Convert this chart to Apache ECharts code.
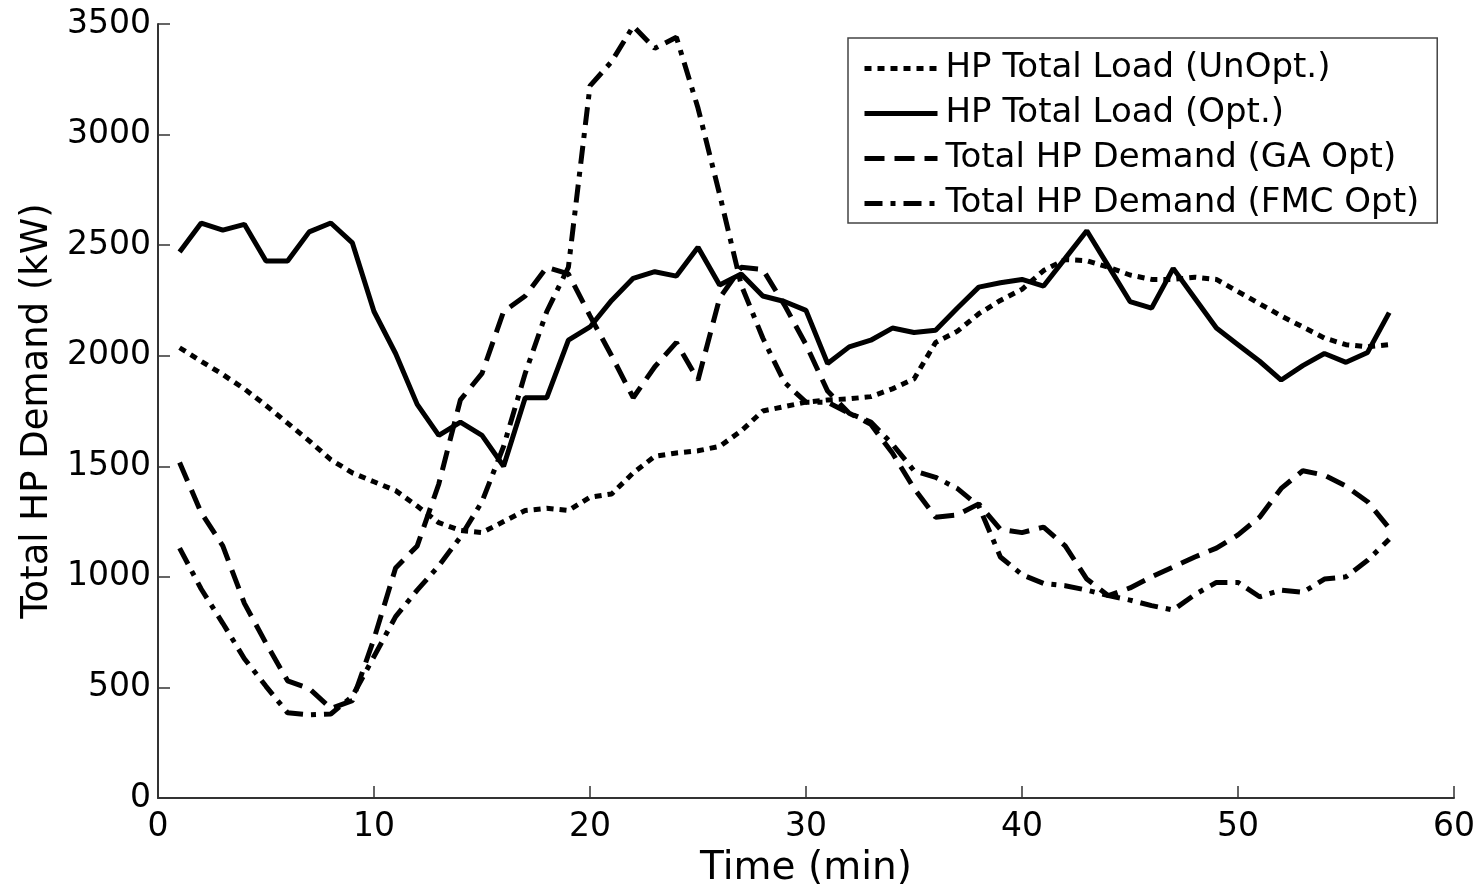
<!DOCTYPE html>
<html>
<head>
<meta charset="utf-8">
<script src="https://cdn.jsdelivr.net/npm/echarts@6/dist/echarts.min.js"></script>
<style>
html,body{margin:0;padding:0;background:#fff;}
#chart{width:1478px;height:887px;}
</style>
</head>
<body>
<div id="chart"></div>
<script>
const timeMin = [1,2,3,4,5,6,7,8,9,10,11,12,13,14,15,16,17,18,19,20,21,22,23,24,25,26,27,28,29,30,31,32,33,34,35,36,37,38,39,40,41,42,43,44,45,46,47,48,49,50,51,52,53,54,55,56,57];
const hpLoadUnOpt = [2036,1975,1915,1850,1775,1695,1615,1530,1470,1430,1390,1320,1245,1210,1200,1250,1300,1310,1300,1360,1375,1470,1545,1560,1570,1590,1660,1750,1770,1790,1800,1805,1815,1850,1895,2060,2110,2190,2250,2300,2385,2435,2430,2400,2365,2345,2345,2355,2345,2290,2235,2180,2130,2080,2050,2040,2050];
const hpLoadOpt = [2469,2600,2568,2594,2428,2428,2560,2600,2510,2200,2010,1780,1640,1700,1640,1500,1810,1810,2070,2130,2250,2350,2380,2360,2490,2320,2370,2270,2245,2205,1965,2040,2070,2125,2105,2115,2215,2310,2330,2345,2315,2440,2565,2405,2245,2215,2395,2260,2125,2050,1975,1890,1955,2010,1970,2015,2195];
const demandGA = [1517,1290,1140,880,700,530,495,405,440,720,1040,1140,1420,1800,1920,2200,2270,2400,2370,2180,2000,1810,1950,2060,1890,2260,2400,2390,2230,2050,1840,1740,1690,1560,1400,1270,1280,1330,1215,1200,1225,1140,990,915,950,1000,1045,1090,1130,1190,1270,1400,1480,1460,1410,1340,1220];
const demandFMC = [1130,945,790,630,505,385,376,380,460,640,820,940,1050,1180,1340,1590,1920,2200,2400,3220,3330,3490,3390,3440,3120,2730,2320,2080,1880,1790,1790,1740,1700,1600,1480,1450,1400,1320,1090,1010,970,960,940,915,895,870,850,920,975,975,910,940,930,990,1000,1075,1170];
const seriesNames = ['HP Total Load (UnOpt.)','HP Total Load (Opt.)','Total HP Demand (GA Opt)','Total HP Demand (FMC Opt)'];
const xTicks = [0,10,20,30,40,50,60];
const yTicks = [0,500,1000,1500,2000,2500,3000,3500];

const FONT = 'DejaVu Sans, sans-serif';
const pairs = vals => timeMin.map((t, i) => [t, vals[i]]);
const dashes = [[7,6], 'solid', [20,10], [18,8,5,8]];
const allVals = [hpLoadUnOpt, hpLoadOpt, demandGA, demandFMC];

const chart = echarts.init(document.getElementById('chart'), null, {renderer:'canvas'});
chart.setOption({
  animation: false,
  backgroundColor: '#fff',
  grid: {left: 158, right: 24, top: 24, bottom: 89, containLabel: false, outerBoundsMode: 'none'},
  legend: {
    orient: 'vertical', left: 848, top: 38,
    padding: [12, 18, 1, 14],
    itemWidth: 73, itemHeight: 14, itemGap: 8,
    borderColor: '#444', borderWidth: 1.5, backgroundColor: '#fff',
    itemStyle: {opacity: 0},
    lineStyle: {width: 5, color: '#000'},
    textStyle: {fontFamily: FONT, fontSize: 34, color: '#000', lineHeight: 37, padding: [0,0,0,3]},
    data: seriesNames
  },
  xAxis: {
    type: 'value', min: xTicks[0], max: xTicks[xTicks.length-1], interval: 10,
    axisLine: {show: true, onZero: false, lineStyle: {color: '#333', width: 2}},
    axisTick: {show: true, inside: true, length: 12, lineStyle: {color: '#333', width: 1.5}},
    splitLine: {show: false},
    axisLabel: {fontFamily: FONT, fontSize: 33, color: '#000', margin: 13},
    name: 'Time (min)', nameLocation: 'middle', nameGap: 46,
    nameTextStyle: {fontFamily: FONT, fontSize: 39, color: '#000'}
  },
  yAxis: {
    type: 'value', min: yTicks[0], max: yTicks[yTicks.length-1], interval: 500,
    axisLine: {show: true, onZero: false, lineStyle: {color: '#333', width: 2}},
    axisTick: {show: true, inside: true, length: 12, lineStyle: {color: '#333', width: 1.5}},
    splitLine: {show: false},
    axisLabel: {fontFamily: FONT, fontSize: 33, color: '#000', margin: 7, formatter: v => String(v)},
    name: 'Total HP Demand (kW)', nameLocation: 'middle', nameGap: 102, nameRotate: 90,
    nameTextStyle: {fontFamily: FONT, fontSize: 37, color: '#000'}
  },
  series: seriesNames.map((name, k) => ({
    name: name, type: 'line', showSymbol: false, symbol: 'none',
    data: pairs(allVals[k]),
    lineStyle: {color: '#000', width: 5, type: dashes[k]},
    itemStyle: {color: '#000'},
    z: 2 + k
  }))
});
</script>
</body>
</html>
